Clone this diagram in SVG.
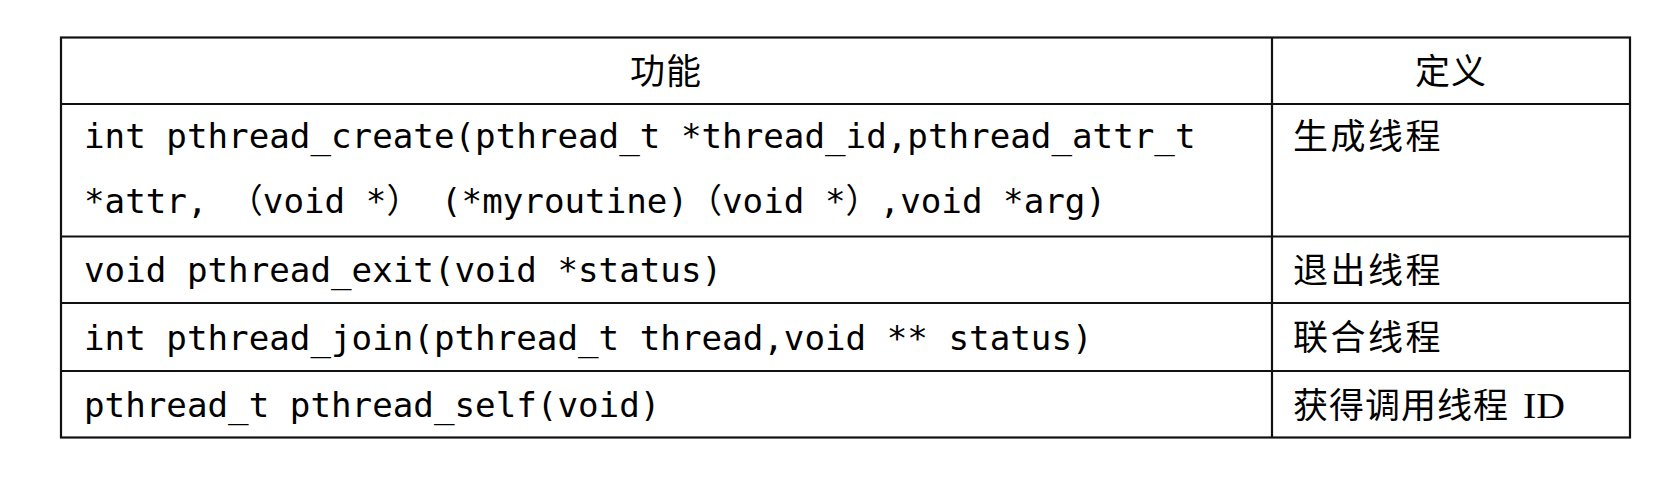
<svg xmlns="http://www.w3.org/2000/svg" width="1678" height="485" viewBox="0 0 1678 485">
<style>
.ln{stroke:#111;stroke-width:2.2;fill:none}
.code{font-family:"DejaVu Sans Mono","Liberation Mono","Noto Sans CJK SC",monospace;font-size:34.2px;fill:#000}
.fw{font-family:"Noto Sans CJK SC","Noto Sans CJK JP",sans-serif;font-size:34px}
.cjk{font-family:"Noto Sans CJK SC","Noto Sans CJK JP",sans-serif;font-size:35px;letter-spacing:2.5px;fill:#000}
.hd{letter-spacing:1px}
.lat{font-family:"Liberation Serif",serif;letter-spacing:0}
</style>
<rect width="1678" height="485" fill="#fff"/>
<g id="grid">
<rect class="ln" x="61" y="37.5" width="1569" height="400"/>
<line class="ln" x1="1272" y1="37.5" x2="1272" y2="437.5"/>
<line class="ln" x1="61" y1="104" x2="1630" y2="104"/>
<line class="ln" x1="61" y1="236.5" x2="1630" y2="236.5"/>
<line class="ln" x1="61" y1="303" x2="1630" y2="303"/>
<line class="ln" x1="61" y1="371" x2="1630" y2="371"/>
</g>
<g id="header">
<text class="cjk hd" x="666" y="84" text-anchor="middle">功能</text>
<text class="cjk hd" x="1451" y="84" text-anchor="middle">定义</text>
</g>
<g id="row1">
<text class="code" x="84" y="148">int pthread_create(pthread_t *thread_id,pthread_attr_t</text>
<text class="code" y="213"><tspan x="84">*attr, </tspan><tspan class="fw" x="228.8">（</tspan><tspan x="262.8">void *</tspan><tspan class="fw" x="386.4">）</tspan><tspan x="420.4"> (*myroutine)</tspan><tspan class="fw" x="688">（</tspan><tspan x="722">void *</tspan><tspan class="fw" x="845.6">）</tspan><tspan x="879.6">,void *arg)</tspan></text>
<text class="cjk" x="1293" y="149">生成线程</text>
</g>
<g id="row2">
<text class="code" x="84" y="282">void pthread_exit(void *status)</text>
<text class="cjk" x="1293" y="283">退出线程</text>
</g>
<g id="row3">
<text class="code" x="84" y="350">int pthread_join(pthread_t thread,void ** status)</text>
<text class="cjk" x="1293" y="350">联合线程</text>
</g>
<g id="row4">
<text class="code" x="84" y="417">pthread_t pthread_self(void)</text>
<text class="cjk hd" x="1293" y="418">获得调用线程 <tspan class="lat" x="1523" textLength="42" lengthAdjust="spacingAndGlyphs">ID</tspan></text>
</g>
</svg>
